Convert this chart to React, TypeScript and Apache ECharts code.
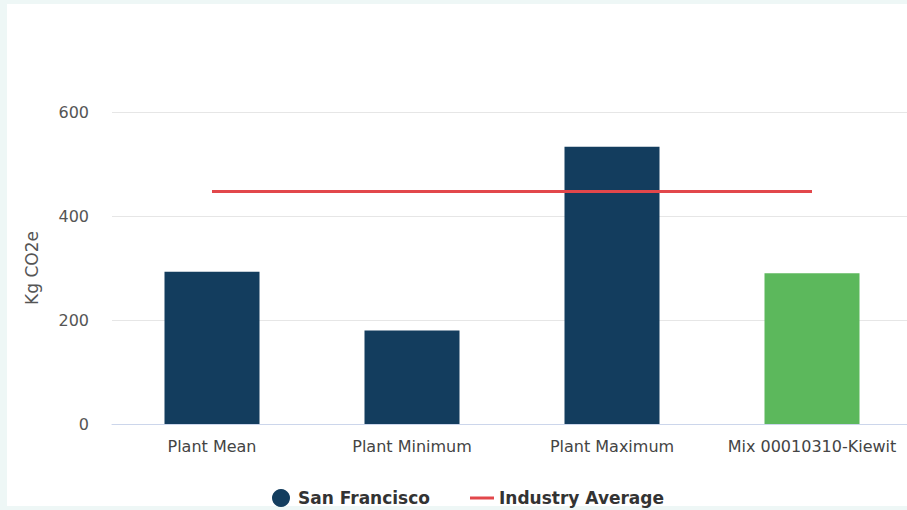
import React, { useEffect, useRef } from "react";
import * as echarts from "echarts";

const categories = ["Plant Mean", "Plant Minimum", "Plant Maximum", "Mix 00010310-Kiewit"];
const sanFranciscoValues = [293, 180, 533, 290];
const industryAverage = [447, 447, 447, 447];
const yTicks = [0, 200, 400, 600];

const NAVY = "#133d5e";
const GREEN = "#5cb85c";
const RED = "#e2474b";
const FONT = "DejaVu Sans, Verdana, sans-serif";

export default function App() {
  const ref = useRef<HTMLDivElement>(null);
  useEffect(() => {
    if (!ref.current) return;
    const chart = echarts.init(ref.current, undefined, { renderer: "svg" });
    chart.setOption({
      animation: false,
      backgroundColor: "#eef7f6",
      textStyle: { fontFamily: FONT },
      graphic: [
        {
          type: "rect",
          z: -10,
          silent: true,
          shape: { x: 7, y: 4, width: 930, height: 502 },
          style: { fill: "#ffffff" },
        },
      ],
      legend: {
        top: 484,
        left: 267,
        itemGap: 40,
        itemWidth: 24,
        itemHeight: 18,
        textStyle: { fontSize: 17, fontWeight: "bold", color: "#333333", fontFamily: FONT },
        data: [
          { name: "San Francisco", icon: "circle", itemStyle: { color: NAVY } },
          { name: "Industry Average", icon: "path://M0,0h24v3h-24z", itemStyle: { color: RED } },
        ],
      },
      grid: { left: 112, right: 8, top: 112, bottom: 86, containLabel: false },
      xAxis: {
        type: "category",
        data: categories,
        axisLine: { lineStyle: { color: "#ccd6eb" } },
        axisTick: { show: false },
        axisLabel: { fontSize: 16, color: "#444444", margin: 14, interval: 0, fontFamily: FONT },
      },
      yAxis: {
        type: "value",
        min: 0,
        max: 600,
        interval: 200,
        name: "Kg CO2e",
        nameLocation: "middle",
        nameGap: 72,
        nameTextStyle: { fontSize: 17, color: "#555555", fontFamily: FONT },
        axisLabel: {
          fontSize: 16,
          color: "#555555",
          margin: 23,
          fontFamily: FONT,
          formatter: (v: number) => (yTicks.includes(v) ? String(v) : ""),
        },
        splitLine: { lineStyle: { color: "#e6e6e6" } },
        axisLine: { show: false },
        axisTick: { show: false },
      },
      series: [
        {
          name: "San Francisco",
          type: "bar",
          barWidth: 95,
          data: sanFranciscoValues.map((v, i) => ({
            value: v,
            itemStyle: { color: i === 3 ? GREEN : NAVY },
          })),
          itemStyle: { color: NAVY },
        },
        {
          name: "Industry Average",
          type: "line",
          data: industryAverage,
          symbol: "none",
          lineStyle: { color: RED, width: 3 },
          itemStyle: { color: RED },
          z: 5,
        },
      ],
    });
    return () => chart.dispose();
  }, []);
  return (
    <div style={{ position: "fixed", left: 0, top: 0, width: 907, height: 510, overflow: "hidden" }}>
      <div ref={ref} style={{ width: 920, height: 510 }} />
    </div>
  );
}
